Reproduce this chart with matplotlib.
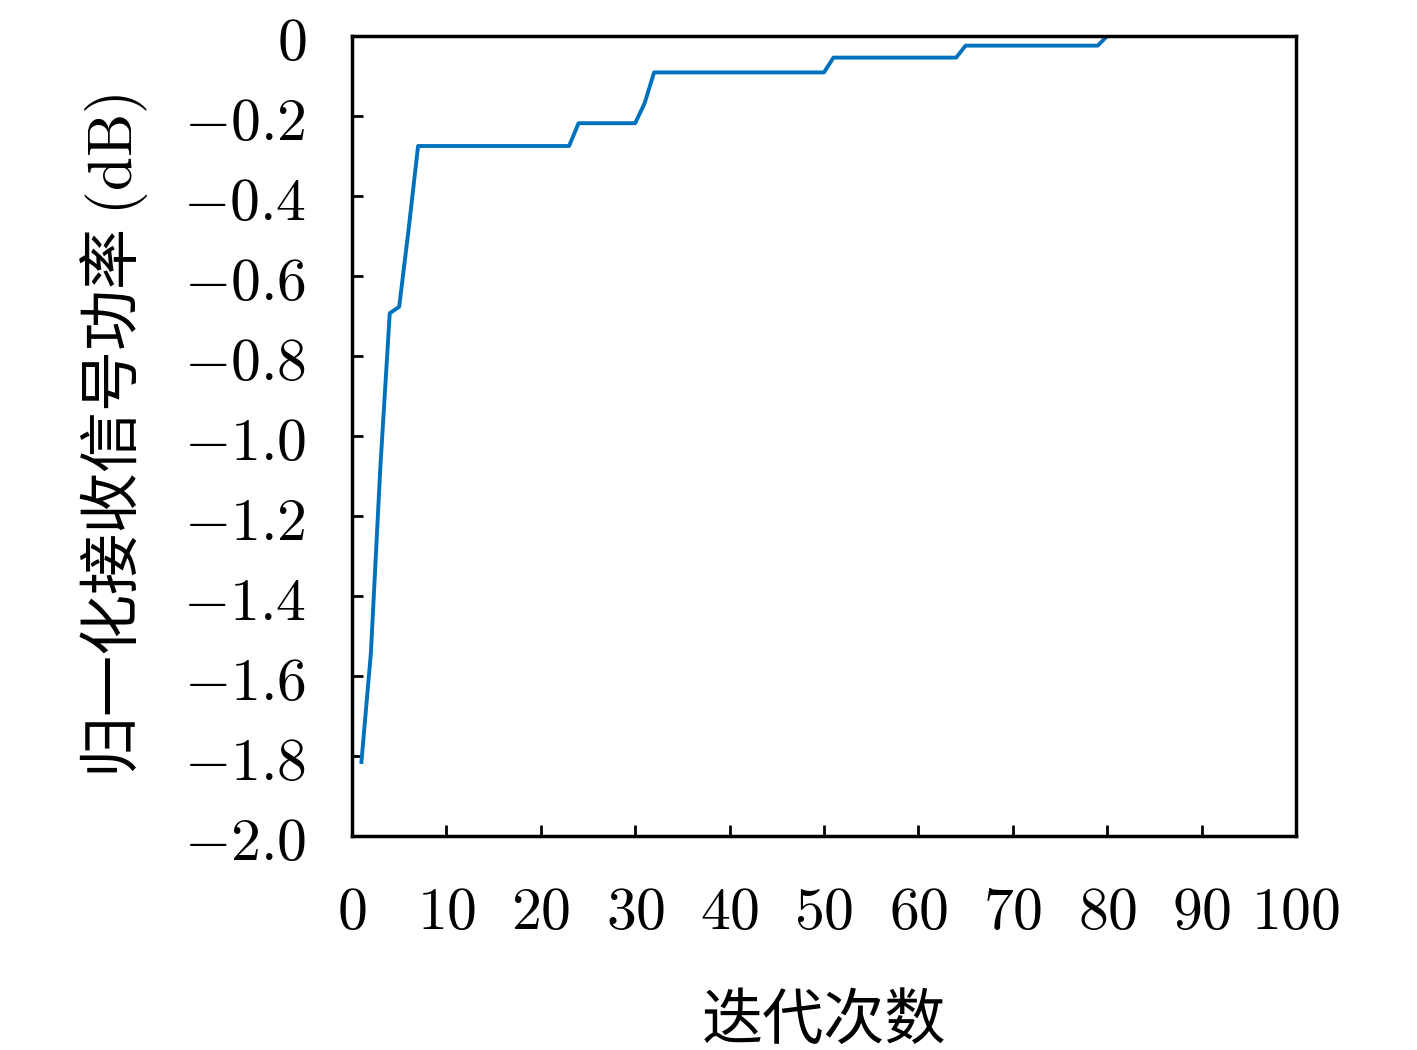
import matplotlib
matplotlib.use("Agg")
import matplotlib.pyplot as plt

# Data: breakpoints of the convergence curve (iteration, normalized power dB)
iterations = [1, 2, 3, 4, 5, 6, 7, 23, 24, 30, 31, 32, 50, 51, 64, 65, 79, 80, 100]
power_db = [-1.815, -1.543, -1.08, -0.693, -0.677, -0.483, -0.275, -0.275,
            -0.218, -0.218, -0.168, -0.091, -0.091, -0.054, -0.054, -0.024,
            -0.024, 0.0, 0.0]
x_ticks = [0, 10, 20, 30, 40, 50, 60, 70, 80, 90, 100]
y_ticks = [0, -0.2, -0.4, -0.6, -0.8, -1.0, -1.2, -1.4, -1.6, -1.8, -2.0]
y_tick_labels = ["0", "-0.2", "-0.4", "-0.6", "-0.8", "-1.0", "-1.2", "-1.4", "-1.6", "-1.8", "-2.0"]
x_label = "迭代次数"
y_label = "归一化接收信号功率 $(\\mathrm{dB})$"

plt.rcParams['mathtext.fontset'] = 'cm'
plt.rcParams['font.family'] = ['Noto Sans CJK SC', 'DejaVu Sans']

fig = plt.figure(figsize=(14.17, 10.5), dpi=100)
ax = fig.add_axes([0.2484, 0.2038, 0.9146 - 0.2484, 0.9657 - 0.2038])

ax.plot(iterations, power_db, color='#0072BD', linewidth=2.8)

ax.set_xlim(0, 100)
ax.set_ylim(-2.0, 0)
ax.set_xticks(x_ticks)
ax.set_xticklabels([f"${t}$" for t in x_ticks])
ax.set_yticks(y_ticks)
ax.set_yticklabels([f"${l}$" for l in y_tick_labels])

for s in ax.spines.values():
    s.set_linewidth(2.5)

ax.tick_params(axis='both', which='major', direction='in', length=8, width=2.0,
               labelsize=43, top=False, right=False)
ax.tick_params(axis='y', pad=33)
ax.tick_params(axis='x', pad=33)

ax.set_xlabel(x_label, fontsize=44, labelpad=34)
ax.set_ylabel(y_label, fontsize=44, labelpad=24)

fig.savefig("out.png", dpi=100, facecolor='white')
